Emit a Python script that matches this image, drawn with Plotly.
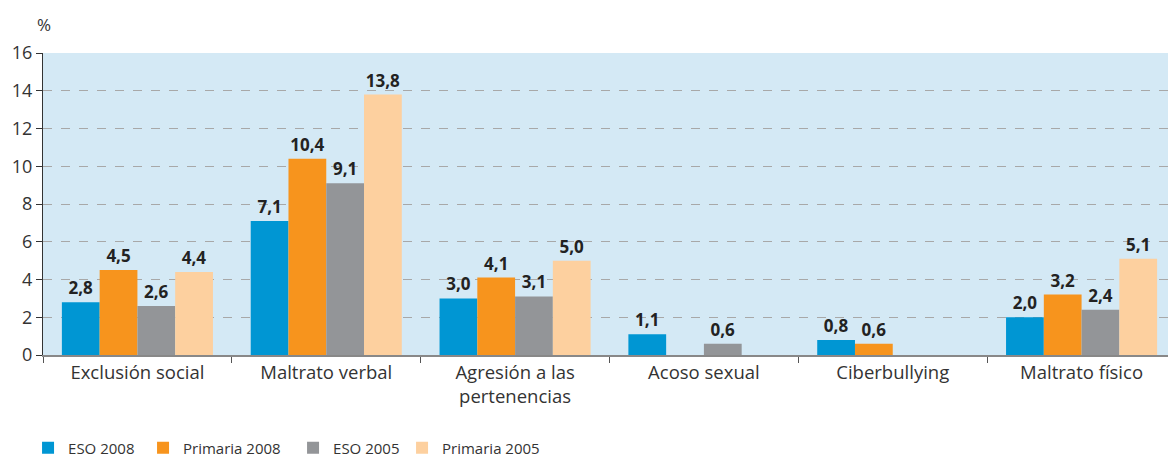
import plotly.graph_objects as go

categories = ["Exclusión social", "Maltrato verbal", "Agresión a las<br>pertenencias",
              "Acoso sexual", "Ciberbullying", "Maltrato físico"]
series_names = ["ESO 2008", "Primaria 2008", "ESO 2005", "Primaria 2005"]
eso_2008 = [2.8, 7.1, 3.0, 1.1, 0.8, 2.0]
primaria_2008 = [4.5, 10.4, 4.1, None, 0.6, 3.2]
eso_2005 = [2.6, 9.1, 3.1, 0.6, None, 2.4]
primaria_2005 = [4.4, 13.8, 5.0, None, None, 5.1]
colors = ["#0096d3", "#f7941d", "#939598", "#fdd09f"]
legend_ids = ["legend", "legend2", "legend3", "legend4"]
legend_x = [-0.0132, 0.0883, 0.2207, 0.3169]

fig = go.Figure()
for name, vals, col, lid in zip(series_names, [eso_2008, primaria_2008, eso_2005, primaria_2005],
                                colors, legend_ids):
    fig.add_trace(go.Bar(
        x=categories, y=vals, name=name, marker_color=col, marker_line_width=0,
        text=[("%.1f" % v).replace(".", ",") if v is not None else "" for v in vals],
        textposition="outside", cliponaxis=False, legend=lid,
        textfont=dict(family="Liberation Sans Narrow, Open Sans", size=17, color="#222222"),
    ))

legends = {}
for lid, lx in zip(legend_ids, legend_x):
    legends[lid] = dict(orientation="h", x=lx, xanchor="left", y=0.02, yref="container",
                        yanchor="middle", font=dict(size=15, color="#333333"),
                        bgcolor="rgba(0,0,0,0)")

# page body has an 8px offset, so the figure is drawn 8px smaller
fig.update_layout(
    width=1168, height=449,
    margin=dict(l=35, r=0, t=45, b=102, autoexpand=False),
    paper_bgcolor="white", plot_bgcolor="#d4e9f5",
    barmode="group", bargap=0.2, bargroupgap=0,
    font=dict(family="Open Sans, DejaVu Sans", color="#333333"),
    showlegend=True,
    **legends,
)
fig.update_traces(texttemplate="<b>%{text}</b>")
fig.update_xaxes(
    type="category", tickson="boundaries", ticks="outside", ticklen=6, tickcolor="#555555",
    showline=True, linecolor="#888888", linewidth=1.5, showgrid=False,
    tickfont=dict(size=18.5, color="#333333"),
)
fig.update_yaxes(
    range=[0, 16], dtick=2, ticks="outside", ticklen=6, tickcolor="#333333",
    showline=True, linecolor="#333333", linewidth=1,
    showgrid=True, gridcolor="#a8a8a8", griddash="dash", gridwidth=1,
    zeroline=False, tickfont=dict(size=18, color="#333333"),
)
fig.add_annotation(text="%", xref="paper", yref="paper", x=0.009, y=1.05,
                   xanchor="right", yanchor="bottom", showarrow=False,
                   font=dict(size=17, color="#333333"))
fig.write_html("out.html")
